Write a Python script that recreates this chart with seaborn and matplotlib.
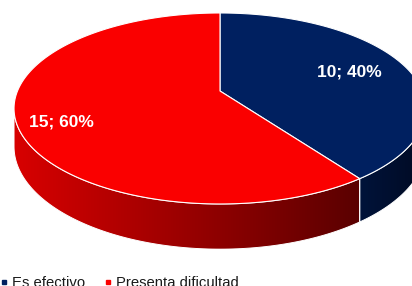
import numpy as np
import matplotlib.pyplot as plt
import seaborn as sns
from matplotlib.colors import LinearSegmentedColormap
from matplotlib.lines import Line2D
from matplotlib.patches import Polygon

# data
categories = ['Es efectivo', 'Presenta dificultad']
counts = [10, 15]
top_colors = ['#002060', '#fa0000']
side_colors = [('#00133a', '#000a22'), ('#d80000', '#5a0000')]
label_radius = [0.70, 0.80]
label_shift = [0, -5]   # degrees, nudges the label off the slice middle

sns.set_theme(style='white')
plt.rcParams['font.family'] = ['Liberation Sans', 'DejaVu Sans']

# perspective of the tilted pie (Excel-like 3D pie)
K = 0.183            # foreshortening of the far side
DEPTH = 0.40         # height of the side wall
SX, SY = 202.5, 92.3  # px per unit
CX, CY = 220, 91      # pixel of the pie centre


def project(theta, r=1.0):
    t = np.radians(theta)
    u, v = r * np.sin(t), r * np.cos(t)
    w = 1 + K * v
    return u / w, v / w, w


fig = plt.figure(figsize=(4.12, 2.86), dpi=100)
ax = fig.add_axes([0, 0, 1, 1])
ax.set_axis_off()

total = sum(counts)
bounds = np.concatenate([[0], np.cumsum(counts) / total * 360])

# visible part of the side wall lies between the two silhouette points
th_right = np.degrees(np.arccos(-K))
th_left = 360 - th_right

for i in range(len(counts)):
    a, b = max(bounds[i], th_right), min(bounds[i + 1], th_left)
    if a >= b:
        continue
    th = np.linspace(a, b, 120)
    x, y, w = project(th)
    yb = y - DEPTH / w
    pts = np.column_stack([np.concatenate([x, x[::-1]]),
                           np.concatenate([y, yb[::-1]])])
    poly = Polygon(pts, closed=True, facecolor='none', edgecolor='white',
                   lw=0.7, zorder=1.5)
    ax.add_patch(poly)
    cmap = LinearSegmentedColormap.from_list('side%d' % i, side_colors[i])
    grad = np.linspace(0, 1, 256).reshape(1, -1)
    im = ax.imshow(grad, cmap=cmap, aspect='auto', zorder=1,
                   extent=[x.min(), x.max(), yb.min(), y.max()])
    im.set_clip_path(poly)

for i in range(len(counts)):
    th = np.linspace(bounds[i], bounds[i + 1], 200)
    x, y, _ = project(th)
    pts = np.column_stack([np.concatenate([[0], x]), np.concatenate([[0], y])])
    ax.add_patch(Polygon(pts, closed=True, facecolor=top_colors[i],
                         edgecolor='white', lw=0.8, joinstyle='round', zorder=2))
    mid = (bounds[i] + bounds[i + 1]) / 2 + label_shift[i]
    lx, ly, _ = project(mid, label_radius[i])
    pct = counts[i] / total * 100
    ax.text(lx, ly, f'{counts[i]}; {pct:.0f}%', color='white', fontsize=12.5,
            fontweight='bold', ha='center', va='center', zorder=3)

ax.set_xlim((0 - CX) / SX, (412 - CX) / SX)
ax.set_ylim((CY - 286) / SY, CY / SY)

handles = [Line2D([], [], marker='s', linestyle='none', markersize=3.2,
                  color=c) for c in top_colors]
fig.legend(handles, categories, loc='center left', bbox_to_anchor=(0, 0.01),
           ncol=2, frameon=False, fontsize=10.7, handlelength=0.5,
           handletextpad=0.3, columnspacing=1.3, borderpad=0,
           borderaxespad=0, labelcolor='#1a1a1a')

plt.savefig('out.png', dpi=100)
plt.close()
